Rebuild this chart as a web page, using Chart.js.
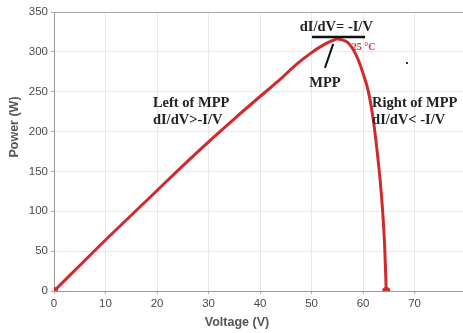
<!DOCTYPE html>
<html lang="en">
<head>
  <meta charset="UTF-8" />
  <title>P-V curve</title>
  <script src="https://cdn.jsdelivr.net/npm/chart.js"></script>
  <style>
    html, body { margin: 0; padding: 0; background: #fff; overflow: hidden; }
    /* plot is cut off at the right edge in the original, so the canvas runs a bit wider than the window */
    .wrap { width: 470px; height: 333px; }
  </style>
</head>
<body>
  <div class="wrap"><canvas id="c"></canvas></div>

  <script>
    // P-V curve at 25 °C
    const voltage = [0, 5, 10, 15, 20, 25, 30, 35, 40, 44, 47, 50, 52, 54, 55, 56, 57, 58, 59, 60, 61, 62, 62.7, 63.3, 63.8, 64.2, 64.5];
    const power   = [0, 32, 64, 95, 126, 157, 187, 216, 244, 266, 284, 299, 307.5, 314, 316, 315, 312, 304, 291, 273, 251, 214, 177, 140, 100, 55, 0];
    const xTicks = [0, 10, 20, 30, 40, 50, 60, 70];
    const yTicks = [0, 50, 100, 150, 200, 250, 300, 350];

    const points = voltage.map((v, i) => ({ x: v, y: power[i] }));
    const last = points.length - 1;

    const notes = {
      id: 'notes',
      afterDatasetsDraw(chart) {
        const ctx = chart.ctx;
        const xs = chart.scales.x, ys = chart.scales.y;
        const serif = '"Liberation Serif", "Times New Roman", serif';
        ctx.save();

        // axis titles
        ctx.fillStyle = '#555';
        ctx.font = 'bold 12.5px Arial, "Liberation Sans", sans-serif';
        ctx.textAlign = 'center';
        ctx.textBaseline = 'middle';
        ctx.fillText('Voltage (V)', 237, 323);
        ctx.save();
        ctx.translate(15, 127);
        ctx.rotate(-Math.PI / 2);
        ctx.fillText('Power (W)', 0, 0);
        ctx.restore();

        // MPP annotation
        ctx.fillStyle = '#222';
        ctx.font = 'bold 14.5px ' + serif;
        ctx.fillText('dI/dV= -I/V', xs.getPixelForValue(54.8), 27);
        ctx.strokeStyle = '#111';
        ctx.lineWidth = 2.5;
        ctx.beginPath();
        ctx.moveTo(xs.getPixelForValue(50.1), ys.getPixelForValue(318.6));
        ctx.lineTo(xs.getPixelForValue(60.4), ys.getPixelForValue(318.6));
        ctx.stroke();
        ctx.lineWidth = 2;
        ctx.beginPath();
        ctx.moveTo(xs.getPixelForValue(54.2), ys.getPixelForValue(310));
        ctx.lineTo(xs.getPixelForValue(52.6), ys.getPixelForValue(280));
        ctx.stroke();
        ctx.fillText('MPP', xs.getPixelForValue(52.6), 83);

        ctx.fillStyle = '#d03535';
        ctx.font = 'bold 10px ' + serif;
        ctx.textAlign = 'left';
        ctx.fillText('25 \u00B0C', xs.getPixelForValue(57.8), 47);

        // region labels
        ctx.fillStyle = '#222';
        ctx.font = 'bold 14.5px ' + serif;
        ctx.fillText('Left of MPP', xs.getPixelForValue(19.2), 103);
        ctx.fillText('dI/dV>-I/V', xs.getPixelForValue(19.2), 120);
        ctx.fillText('Right of MPP', xs.getPixelForValue(61.75), 103);
        ctx.fillText('dI/dV< -I/V', xs.getPixelForValue(61.75), 120);

        // stray dot
        ctx.fillStyle = '#333';
        ctx.fillRect(406, 62, 2, 2);
        ctx.restore();
      }
    };

    new Chart(document.getElementById('c'), {
      type: 'scatter',
      data: {
        datasets: [{
          data: points,
          showLine: true,
          borderColor: '#d02a2d',
          backgroundColor: '#d02a2d',
          borderWidth: 3,
          cubicInterpolationMode: 'monotone',
          pointRadius: points.map((p, i) => (i === 0 || i === last) ? 2.5 : 0)
        }]
      },
      options: {
        responsive: true,
        maintainAspectRatio: false,
        animation: false,
        layout: { padding: { top: 12, right: 0, left: 0, bottom: 0 } },
        plugins: { legend: { display: false }, tooltip: { enabled: false } },
        scales: {
          x: {
            type: 'linear',
            min: 0,
            max: 79.4,
            afterFit: s => { s.height = 42; },
            afterBuildTicks: s => { s.ticks = xTicks.map(v => ({ value: v })); },
            grid: { color: '#e8e8e8', tickLength: 3, tickColor: '#aaa' },
            border: { color: '#999', width: 1 },
            ticks: {
              color: '#4a4a4a',
              font: { size: 11.5, family: 'Arial, "Liberation Sans", sans-serif' },
              padding: 3
            }
          },
          y: {
            min: 0,
            max: 350,
            afterFit: s => { s.width = 54; },
            afterBuildTicks: s => { s.ticks = yTicks.map(v => ({ value: v })); },
            grid: {
              color: ctx => ctx.tick && ctx.tick.value === 350 ? '#aaa' : '#e8e8e8',
              tickLength: 3,
              tickColor: '#aaa'
            },
            border: { color: '#999', width: 1 },
            ticks: {
              color: '#4a4a4a',
              font: { size: 11.5, family: 'Arial, "Liberation Sans", sans-serif' },
              padding: 3
            }
          }
        }
      },
      plugins: [notes]
    });
  </script>
</body>
</html>
